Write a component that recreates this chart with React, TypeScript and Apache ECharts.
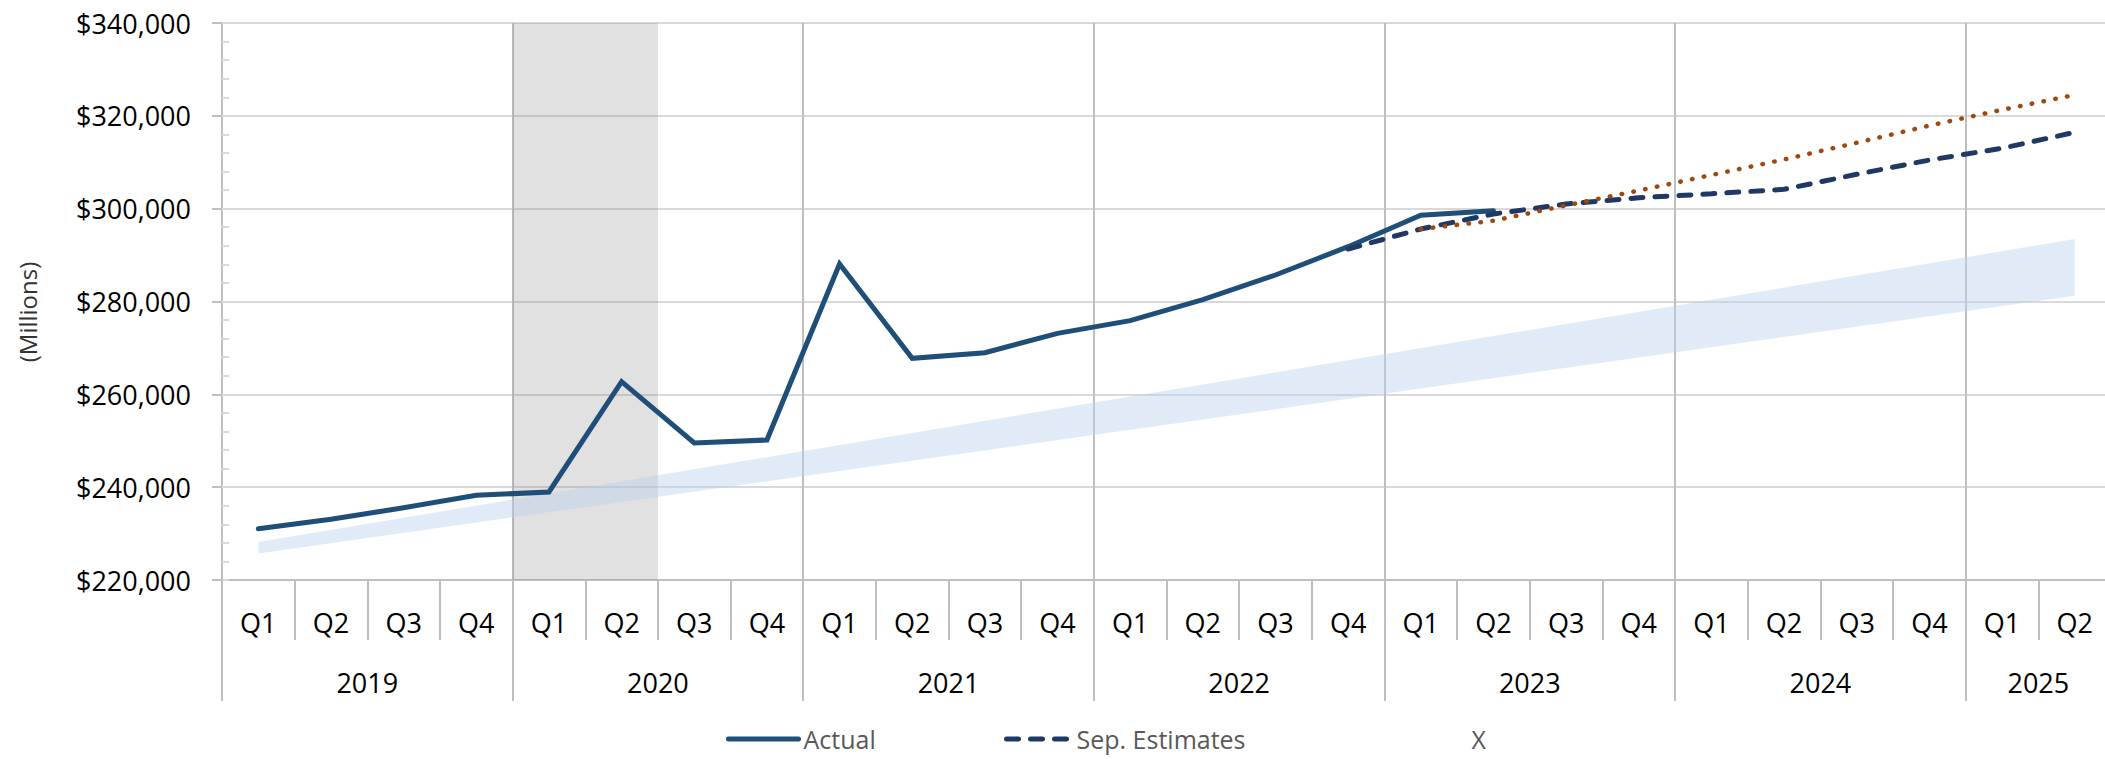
import React, { useEffect, useRef } from "react";
import * as echarts from "echarts";

const quarterLabels = [
  "Q1", "Q2", "Q3", "Q4",
  "Q1", "Q2", "Q3", "Q4",
  "Q1", "Q2", "Q3", "Q4",
  "Q1", "Q2", "Q3", "Q4",
  "Q1", "Q2", "Q3", "Q4",
  "Q1", "Q2", "Q3", "Q4",
  "Q1", "Q2",
];
const yearLabels = ["2019", "2020", "2021", "2022", "2023", "2024", "2025"];
const quartersPerYear = [4, 4, 4, 4, 4, 4, 2];

const yAxisMin = 220000;
const yAxisMax = 340000;
const yAxisStep = 20000;
const yMinorStep = 4000;

const actual = [
  231050, 233070, 235580, 238240,
  238960, 262720, 249515, 250160,
  288080, 267760, 268970, 273140,
  275870, 280400, 285710, 291810,
  298570, 299560, null, null,
  null, null, null, null,
  null, null,
];

const sepEstimates = [
  null, null, null, null,
  null, null, null, null,
  null, null, null, null,
  null, null, null, 291300,
  295620, 298850, 301000, 302360,
  303200, 304170, 307400, 310480,
  313000, 316450,
];

const xSeries = [
  null, null, null, null,
  null, null, null, null,
  null, null, null, null,
  null, null, null, null,
  295620, 297400, 300700, 303900,
  307250, 310600, 314200, 317900,
  321300, 324500,
];

const bandQuarterIndex = [0, 25];
const bandLower = [225700, 281250];
const bandUpper = [228200, 293450];

const recessionQuarterIndex = [4, 5];

const FONT = "'Open Sans', sans-serif";

function money(v: number): string {
  return "$" + String(Math.round(v)).replace(/\B(?=(\d{3})+(?!\d))/g, ",");
}

export default function App() {
  const ref = useRef<HTMLDivElement>(null);

  useEffect(() => {
    if (!ref.current) return;
    const chart = echarts.init(ref.current, null, { renderer: "svg" });

    const yearAtPos: Record<number, string> = {};
    let start = 0;
    quartersPerYear.forEach((n, i) => {
      yearAtPos[start + n / 2] = yearLabels[i];
      start += n;
    });
    const totalQuarters = quarterLabels.length;

    const axisGray = "#bfbfbf";
    const gridGray = "#d9d9d9";

    const legendText = {
      fontFamily: FONT,
      fontSize: 25,
      color: "#595959",
      lineHeight: 30,
    };
    const legendCommon = {
      top: 719,
      itemHeight: 14,
      itemStyle: { opacity: 0 },
      lineStyle: { width: 5 },
      textStyle: legendText,
    };

    const option: any = {
      animation: false,
      backgroundColor: "#ffffff",
      grid: { left: 222, right: 0, top: 23, bottom: 179, containLabel: false },
      xAxis: [
        {
          type: "category",
          position: "bottom",
          data: quarterLabels,
          boundaryGap: true,
          axisLine: { show: true, onZero: false, lineStyle: { color: axisGray, width: 2 } },
          axisTick: { show: true, interval: 0, length: 60, lineStyle: { color: axisGray, width: 2 } },
          axisLabel: {
            interval: 0,
            margin: 42,
            verticalAlign: "middle",
            fontFamily: FONT,
            fontSize: 27,
            color: "#000000",
          },
          splitLine: {
            show: true,
            interval: (i: number) => i % 4 === 0,
            lineStyle: { color: axisGray, width: 2 },
          },
        },
        {
          type: "category",
          position: "bottom",
          data: quarterLabels,
          boundaryGap: true,
          axisLine: { show: false, onZero: false },
          axisTick: {
            show: true,
            interval: (i: number) => i % 4 === 0,
            length: 121,
            lineStyle: { color: axisGray, width: 2 },
          },
          axisLabel: { show: false },
          splitLine: { show: false },
        },
        {
          type: "value",
          position: "bottom",
          min: 0,
          max: totalQuarters,
          interval: 1,
          axisLine: { show: false, onZero: false },
          axisTick: { show: false },
          splitLine: { show: false },
          axisLabel: {
            margin: 102,
            verticalAlign: "middle",
            fontFamily: FONT,
            fontSize: 27,
            color: "#000000",
            formatter: (v: number) => yearAtPos[v] ?? "",
          },
        },
      ],
      yAxis: [
        {
          type: "value",
          min: yAxisMin,
          max: yAxisMax,
          interval: yAxisStep,
          axisLine: { show: true, lineStyle: { color: axisGray, width: 2 } },
          axisTick: { show: true, length: 10, lineStyle: { color: axisGray, width: 2 } },
          axisLabel: {
            margin: 31,
            fontFamily: FONT,
            fontSize: 27,
            color: "#000000",
            formatter: (v: number) => money(v),
          },
          splitLine: { show: true, lineStyle: { color: gridGray, width: 2 } },
        },
        {
          type: "value",
          min: yAxisMin,
          max: yAxisMax,
          interval: yMinorStep,
          position: "left",
          axisLine: { show: false },
          axisTick: { show: true, inside: true, length: 7, lineStyle: { color: gridGray, width: 2 } },
          axisLabel: { show: false },
          splitLine: { show: false },
        },
      ],
      legend: [
        { ...legendCommon, data: ["Actual"], left: 721, itemWidth: 70 },
        { ...legendCommon, data: ["Sep. Estimates"], left: 999, itemWidth: 65 },
        {
          ...legendCommon,
          data: [{ name: "X", itemStyle: { opacity: 0 }, lineStyle: { opacity: 0 } }],
          left: 1394,
          itemWidth: 65,
        },
      ],
      graphic: [
        {
          type: "text",
          x: 27,
          y: 312,
          rotation: Math.PI / 2,
          style: {
            text: "(Millions)",
            fontFamily: FONT,
            fontSize: 24,
            fill: "#333333",
            align: "center",
            verticalAlign: "middle",
          },
        },
      ],
      series: [
        {
          name: "Recession",
          type: "custom",
          xAxisIndex: 0,
          yAxisIndex: 0,
          z: 1,
          silent: true,
          data: [[recessionQuarterIndex[0], recessionQuarterIndex[1]]],
          renderItem: (params: any, api: any) => {
            const w = api.size([1, 0])[0];
            const x0 = api.coord([api.value(0), yAxisMin])[0] - w / 2;
            const x1 = api.coord([api.value(1), yAxisMin])[0] + w / 2;
            const cs = params.coordSys;
            return {
              type: "rect",
              shape: { x: x0, y: cs.y, width: x1 - x0, height: cs.height },
              style: { fill: "rgba(128,128,128,0.24)" },
            };
          },
        },
        {
          name: "Band",
          type: "custom",
          xAxisIndex: 0,
          yAxisIndex: 0,
          z: 2,
          silent: true,
          encode: { x: 0, y: [1, 2] },
          data: bandQuarterIndex.map((q, i) => [q, bandLower[i], bandUpper[i]]),
          renderItem: (params: any, api: any) => {
            if (params.dataIndex !== 0) return null;
            const pts = [
              api.coord([bandQuarterIndex[0], bandUpper[0]]),
              api.coord([bandQuarterIndex[1], bandUpper[1]]),
              api.coord([bandQuarterIndex[1], bandLower[1]]),
              api.coord([bandQuarterIndex[0], bandLower[0]]),
            ];
            return {
              type: "polygon",
              shape: { points: pts },
              style: { fill: "rgba(189,211,238,0.45)" },
            };
          },
        },
        {
          name: "Actual",
          type: "line",
          xAxisIndex: 0,
          yAxisIndex: 0,
          z: 3,
          data: actual,
          symbol: "none",
          showSymbol: false,
          color: "#1f4e79",
          lineStyle: { color: "#1f4e79", width: 5, cap: "round", join: "miter" },
        },
        {
          name: "Sep. Estimates",
          type: "line",
          xAxisIndex: 0,
          yAxisIndex: 0,
          z: 4,
          data: sepEstimates,
          symbol: "none",
          showSymbol: false,
          color: "#1f3864",
          lineStyle: { color: "#1f3864", width: 5, type: [12, 12], cap: "round" },
        },
        {
          name: "X",
          type: "line",
          xAxisIndex: 0,
          yAxisIndex: 0,
          z: 5,
          data: xSeries,
          symbol: "none",
          showSymbol: false,
          color: "#9e480e",
          lineStyle: { color: "#9e480e", width: 4.5, type: [0.5, 11.5], cap: "round" },
        },
      ],
    };

    chart.setOption(option);
    return () => chart.dispose();
  }, []);

  return (
    <div
      style={{
        position: "absolute",
        left: 0,
        top: 0,
        width: 2105,
        height: 759,
        overflow: "hidden",
      }}
    >
      <div ref={ref} style={{ width: 2114, height: 759 }} />
    </div>
  );
}
